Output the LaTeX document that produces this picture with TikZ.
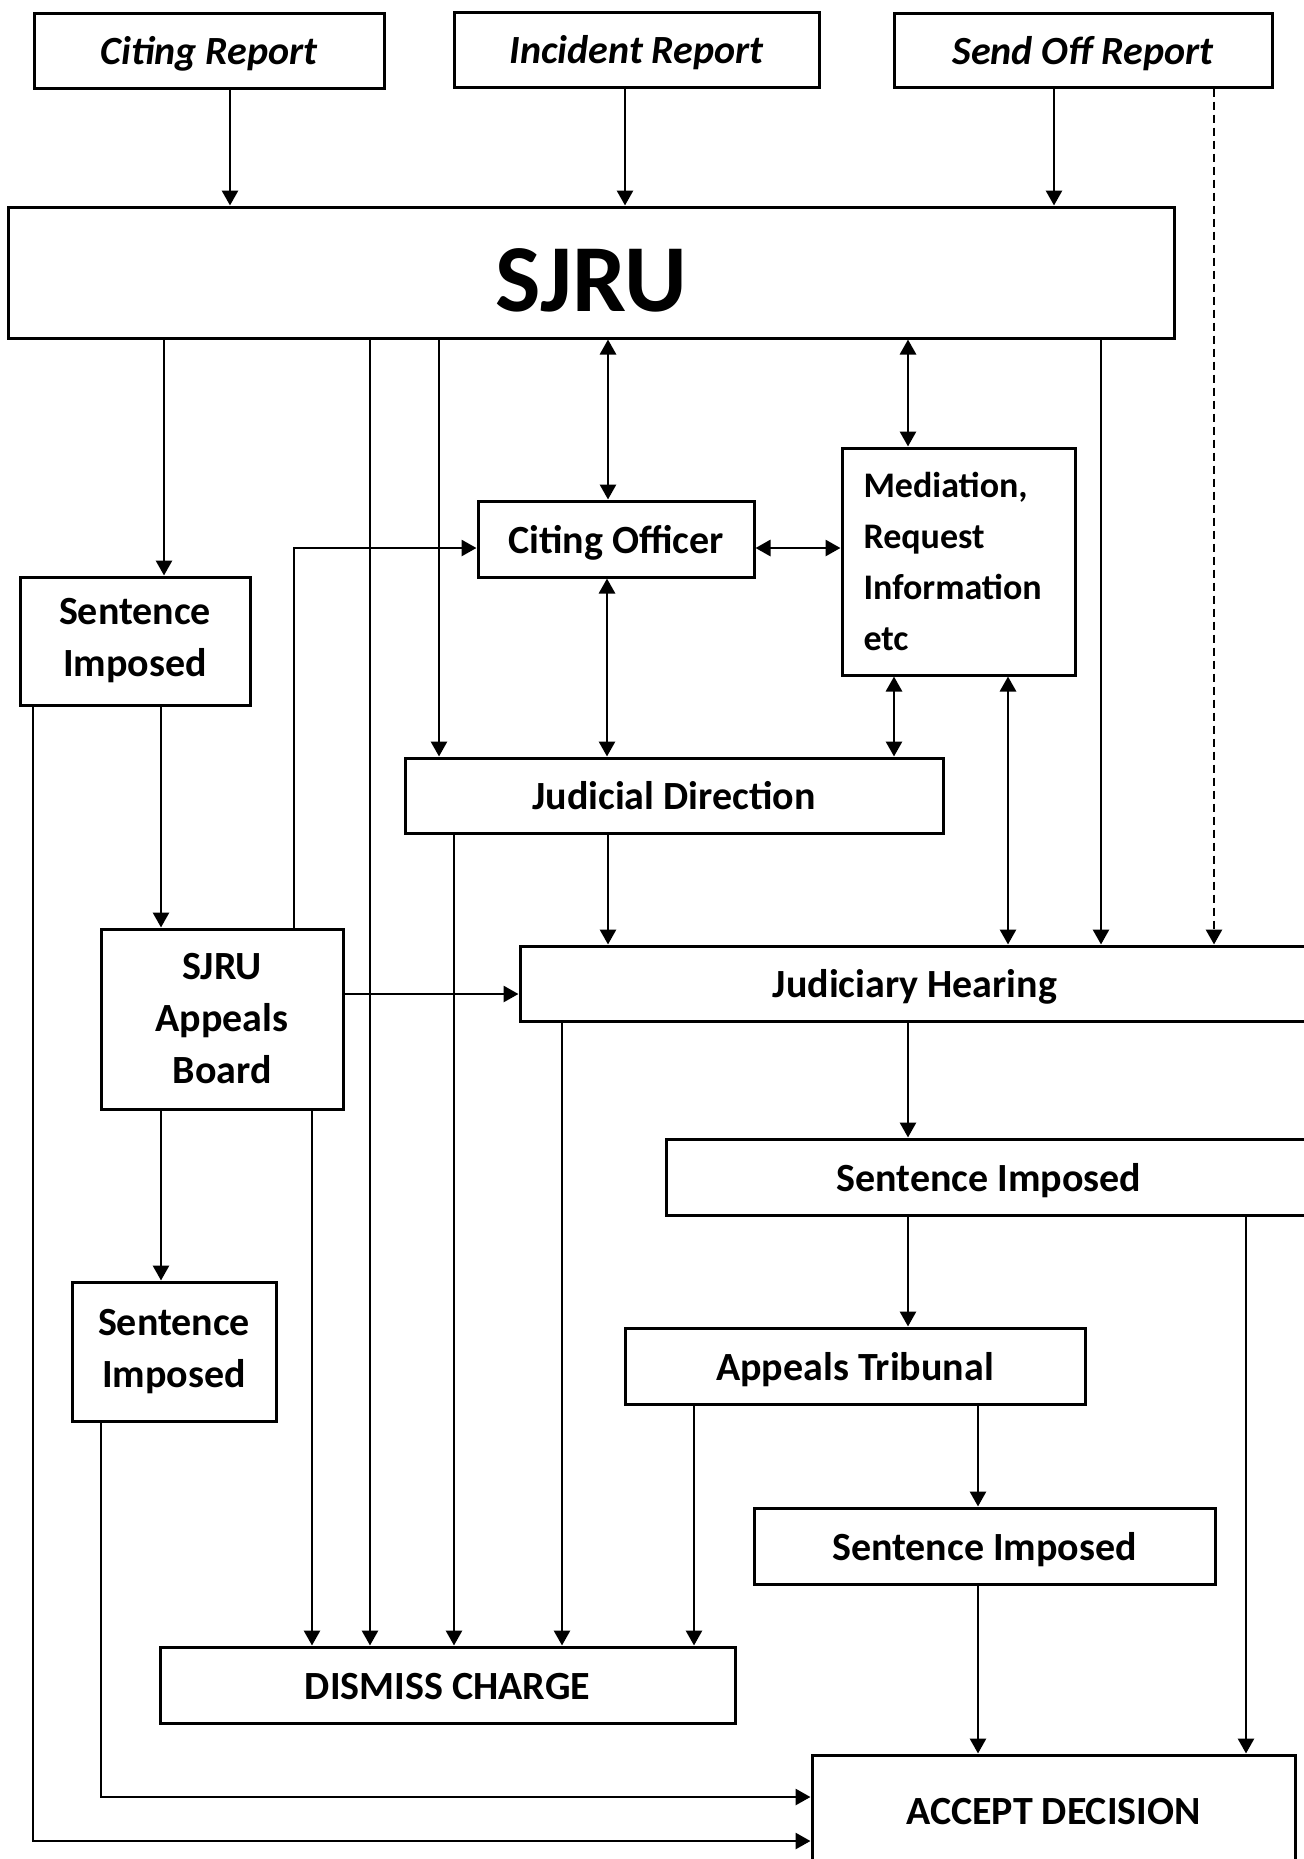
\documentclass[tikz,border=0pt]{standalone}
\usepackage{fontspec}
\setmainfont{Carlito}
\usepackage{tikz}
\usetikzlibrary{arrows.meta}

\tikzset{
  box/.style={draw,line width=1.5pt,inner sep=0pt,align=center,
    font=\fontsize{20}{26}\selectfont\bfseries},
  oneline/.style={box,text height=14pt,text depth=0pt},
  report/.style={oneline,font=\fontsize{20}{26}\selectfont\bfseries\itshape},
  link/.style={line width=1.4pt},
}

\begin{document}
\begin{tikzpicture}[line cap=butt,line join=miter,>={Triangle[length=7.5pt,width=8pt]},x=0.5pt,y=-0.5pt]
\useasboundingbox (0,0) rectangle (1303,1859);
% reports
\node [report,minimum width=175pt,minimum height=37.5pt] (citing) at (209,50.5) {Citing Report};
\node [report,minimum width=182.5pt,minimum height=37.5pt] (incident) at (636.5,49.5) {Incident Report};
\node [report,minimum width=189pt,minimum height=37pt] (sendoff) at (1083,50) {Send Off Report};
\node [box,minimum width=583pt,minimum height=65.5pt,text height=38.5pt,text depth=0pt,
  font=\fontsize{48}{50}\selectfont\bfseries] (sjru) at (591,272.5) {SJRU};
% middle part
\node [oneline,minimum width=138pt,minimum height=38pt] (officer) at (616,539) {Citing Officer};
\node [box,minimum width=116.5pt,minimum height=113.5pt,align=left,text width=95pt,
  font=\fontsize{18}{25.5}\selectfont\bfseries] (mediation) at (958.5,561.5) {Mediation,\\Request\\Information\\etc};
\node [box,minimum width=115pt,minimum height=64pt] (sentA) at (135,641) {Sentence\\Imposed};
\node [oneline,minimum width=269pt,minimum height=37.5pt] (direction) at (674,795.5) {Judicial Direction};
\node [box,minimum width=121pt,minimum height=90pt] (board) at (222,1019) {SJRU\\Appeals\\Board};
\node [oneline,minimum width=395pt,minimum height=37.5pt] (hearing) at (915,983.5) {Judiciary Hearing};
\node [oneline,minimum width=323pt,minimum height=38pt] (sentB) at (989,1177) {Sentence Imposed};
\node [box,minimum width=102pt,minimum height=69.5pt] (sentC) at (174,1351.5) {Sentence\\Imposed};
\node [oneline,minimum width=230pt,minimum height=38pt] (tribunal) at (855,1366) {Appeals Tribunal};
\node [oneline,minimum width=230.5pt,minimum height=38pt] (sentD) at (984.5,1546) {Sentence Imposed};
% outcomes
\node [oneline,minimum width=287.5pt,minimum height=38pt] (dismiss) at (447.5,1685) {DISMISS CHARGE};
\node [oneline,minimum width=241.5pt,minimum height=55pt] (accept) at (1053.5,1810) {ACCEPT DECISION};
% reports into SJRU
\draw [link,->] (citing.south -| 230,0)-- (sjru.north -| 230,0);
\draw [link,->] (incident.south -| 625,0)-- (sjru.north -| 625,0);
\draw [link,->] (sendoff.south -| 1054,0)-- (sjru.north -| 1054,0);
\draw [link,->,dash pattern=on 4pt off 2.5pt] (sendoff.south -| 1214,0)-- (hearing.north -| 1214,0);
% out of SJRU
\draw [link,->] (sjru.south -| 164,0)-- (sentA.north -| 164,0);
\draw [link,->] (sjru.south -| 370,0)-- (dismiss.north -| 370,0);
\draw [link,->] (sjru.south -| 439,0)-- (direction.north -| 439,0);
\draw [link,<->] (sjru.south -| 608,0)-- (officer.north -| 608,0);
\draw [link,<->] (sjru.south -| 908,0)-- (mediation.north -| 908,0);
\draw [link,->] (sjru.south -| 1101,0)-- (hearing.north -| 1101,0);
% officer, mediation, direction
\draw [link,<->] (officer.east |- 0,548)-- (mediation.west |- 0,548);
\draw [link,<->] (officer.south -| 607,0)-- (direction.north -| 607,0);
\draw [link,<->] (mediation.south -| 894,0)-- (direction.north -| 894,0);
\draw [link,<->] (mediation.south -| 1008,0)-- (hearing.north -| 1008,0);
\draw [link,->] (direction.south -| 608,0)-- (hearing.north -| 608,0);
\draw [link,->] (direction.south -| 454,0)-- (dismiss.north -| 454,0);
% left column
\draw [link,->] (sentA.south -| 161,0)-- (board.north -| 161,0);
\draw [link,->] (sentA.south -| 33,0) |- (accept.west |- 0,1841);
\draw [link,->] (board.north -| 294,0) |- (officer.west |- 0,548);
\draw [link,->] (board.east |- 0,994)-- (hearing.west |- 0,994);
\draw [link,->] (board.south -| 161,0)-- (sentC.north -| 161,0);
\draw [link,->] (board.south -| 312,0)-- (dismiss.north -| 312,0);
\draw [link,->] (sentC.south -| 101,0) |- (accept.west |- 0,1797);
% right column
\draw [link,->] (hearing.south -| 562,0)-- (dismiss.north -| 562,0);
\draw [link,->] (hearing.south -| 908,0)-- (sentB.north -| 908,0);
\draw [link,->] (sentB.south -| 908,0)-- (tribunal.north -| 908,0);
\draw [link,->] (sentB.south -| 1246,0)-- (accept.north -| 1246,0);
\draw [link,->] (tribunal.south -| 694,0)-- (dismiss.north -| 694,0);
\draw [link,->] (tribunal.south -| 978,0)-- (sentD.north -| 978,0);
\draw [link,->] (sentD.south -| 978,0)-- (accept.north -| 978,0);
\end{tikzpicture}
\end{document}
